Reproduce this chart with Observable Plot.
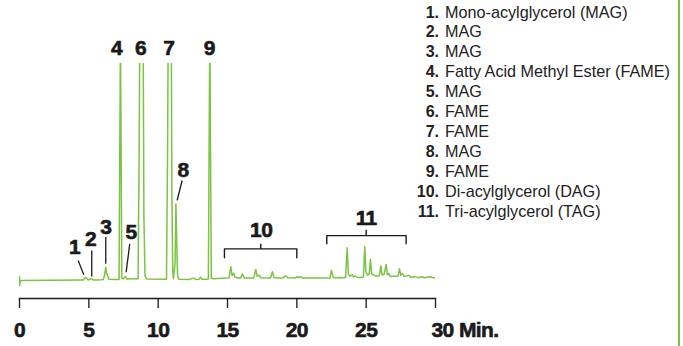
<!DOCTYPE html>
<html>
<head>
<meta charset="utf-8">
<script src="https://cdn.jsdelivr.net/npm/d3@7"></script>
<script src="https://cdn.jsdelivr.net/npm/@observablehq/plot@0.6"></script>
<style>
  html, body { margin: 0; padding: 0; background: #fff; }
  #wrap { position: relative; width: 683px; height: 346px; overflow: hidden; background: #fff; }
  #legend { position: absolute; left: 390px; top: 2.6px; font-family: "Liberation Sans", Arial, sans-serif; font-size: 16.2px; color: #222; }
  #legend .row { height: 19.9px; line-height: 19.9px; white-space: nowrap; }
  #legend .num { display: inline-block; width: 49px; text-align: right; font-weight: bold; font-size: 16px; }
  #legend .name { display: inline-block; margin-left: 6px; }
  #edge { position: absolute; left: 677.5px; top: 0; width: 2px; height: 346px; background: #7cc243; }
</style>
</head>
<body>
<div id="wrap"><div id="chart"></div><div id="legend"></div><div id="edge"></div></div>
<script>
// Chromatogram trace: retention time (min) and detector response (relative units)
const times = [
  0, 0.01, 0.06, 4.4, 4.6, 4.78, 4.95, 5.17, 5.35, 5.9, 6.05, 6.15, 6.22, 6.3, 6.45, 7.0,
  7.18, 7.27, 7.29, 7.38, 7.5, 7.62, 7.75, 7.95, 8.55, 8.63, 8.67, 8.92, 8.97, 9.05, 9.2,
  10.6, 10.68, 10.72, 10.95, 10.99, 11.05, 11.1, 11.22, 11.28, 11.33, 11.4, 11.5,
  12.3, 12.52, 12.7, 12.95, 13.05, 13.15, 13.5, 13.62, 13.71, 13.74, 13.83, 14.0,
  14.9, 15.12, 15.24, 15.33, 15.45, 15.55, 15.75, 15.95, 16.08, 16.2, 16.9, 17.04, 17.14,
  17.28, 17.4, 18.1, 18.24, 18.36, 18.6, 19.0, 19.18, 19.35, 19.9, 20.03, 20.15, 20.26, 20.4,
  22.2, 22.38, 22.5, 22.62, 22.8, 23.1, 23.4, 23.52, 23.63, 23.72, 23.85, 23.99, 24.1, 24.2,
  24.35, 24.6, 24.8, 24.9, 24.98, 25.1, 25.22, 25.31, 25.4, 25.55, 25.7, 25.95, 26.06, 26.15,
  26.3, 26.44, 26.53, 26.63, 26.75, 27.0, 27.3, 27.4, 27.5, 27.6, 27.75, 28.07, 28.2, 28.55,
  28.7, 29.03, 29.2, 29.6, 29.8, 30
];
const response = [
  1.8, -2.3, 0, 0.2, 0.2, 1.5, 0.2, 0.9, 0.2, 0.4, 0.5, 3.0, 6.1, 3.0, 0.6, 0.5,
  0.5, 101, 101, 0.9, 0.8, 1.9, 0.6, 0.8, 0.8, 60, 110, 110, 30, 2.0, 0.7,
  0.6, 60, 110, 110, 40, 5.0, 0.8, 8.0, 35.3, 20, 2.0, 0.6,
  0.5, 1.1, 0.5, 0.6, 1.6, 0.6, 0.6, 0.7, 101, 101, 1.0, 0.8,
  1.1, 1.3, 6.4, 2.4, 3.3, 1.5, 1.2, 1.2, 3.1, 1.2, 1.2, 5.1, 2.0,
  2.4, 1.3, 1.2, 4.0, 1.4, 1.2, 1.2, 2.2, 1.3, 1.2, 1.8, 1.3, 1.8, 1.1,
  1.1, 1.2, 4.6, 1.5, 1.2, 1.4, 1.3, 1.5, 15.1, 3.0, 2.0, 2.6, 1.6, 2.2,
  1.5, 1.4, 1.6, 15.7, 4.0, 2.5, 3.0, 9.7, 3.0, 2.6, 2.0, 2.2, 6.8, 2.5,
  3.0, 7.4, 2.6, 3.2, 1.8, 2.0, 2.0, 5.4, 2.4, 3.2, 1.8, 2.4, 1.5, 1.8,
  1.3, 1.7, 1.3, 1.7, 1.3, 1.3
];

// Peak number labels
const peakLabels = ["1", "2", "3", "4", "5", "6", "7", "8", "9", "10", "11"];
const labelTime  = [3.97, 5.12, 6.22, 7.0, 8.05, 8.73, 10.77, 11.8, 13.68, 17.43, 25.0];
const labelLevel = [15.3, 18.9, 24.6, 107.2, 22.3, 107.2, 107.2, 51.0, 107.2, 23.0, 28.9];

// Leader lines from labels to small peaks
const leaderT1 = [4.23, 5.21, 6.22, 7.95, 11.73];
const leaderV1 = [9.2, 13.8, 20.0, 16.9, 46.1];
const leaderT2 = [4.64, 5.21, 6.22, 7.69, 11.37];
const leaderV2 = [2.6, 1.8, 7.7, 3.8, 36.9];

// Brackets for peak groups 10 and 11
const bracketStart   = [14.78, 22.16];
const bracketEnd     = [20.0, 27.88];
const bracketMid     = [17.4, 25.0];
const bracketTop     = [14.6, 20.7];
const bracketFoot    = [10.5, 16.9];
const bracketTickTop = [16.9, 23.4];

// X axis ticks
const tickValues = [0, 5, 10, 15, 20, 25, 30];
const axisUnit = "30 Min.";

// Legend
const legendNumbers = ["1.", "2.", "3.", "4.", "5.", "6.", "7.", "8.", "9.", "10.", "11."];
const legendNames = [
  "Mono-acylglycerol (MAG)", "MAG", "MAG", "Fatty Acid Methyl Ester (FAME)", "MAG",
  "FAME", "FAME", "MAG", "FAME", "Di-acylglycerol (DAG)", "Tri-acylglycerol (TAG)"
];

const trace = times.map((t, i) => ({t, v: response[i]}));
const labels = peakLabels.map((s, i) => ({s, t: labelTime[i], v: labelLevel[i]}));
const leaders = leaderT1.map((t, i) => ({t1: t, v1: leaderV1[i], t2: leaderT2[i], v2: leaderV2[i]}));
const bracketPts = bracketStart.flatMap((s, i) => [
  {k: i, t: s, v: bracketFoot[i]},
  {k: i, t: s, v: bracketTop[i]},
  {k: i, t: bracketEnd[i], v: bracketTop[i]},
  {k: i, t: bracketEnd[i], v: bracketFoot[i]}
]);
const bracketTicks = bracketMid.map((m, i) => ({t: m, v1: bracketTop[i], v2: bracketTickTop[i]}));

const boldFont = '"Liberation Sans", Arial, sans-serif';
const green = "#7cc243";
const ink = "#1a1a1a";

const chart = Plot.plot({
  width: 683,
  height: 346,
  marginLeft: 19,
  marginRight: 248,
  marginTop: 63,
  marginBottom: 48,
  style: {background: "transparent", fontFamily: boldFont, overflow: "visible", letterSpacing: "-0.6px"},
  x: {domain: [0, 30], axis: null},
  y: {domain: [-8.29, 100], axis: null},
  marks: [
    Plot.frame({anchor: "bottom", stroke: ink, strokeWidth: 1.3}),
    Plot.axisX(tickValues, {
      tickSize: 10, tickPadding: 13.5, stroke: ink, strokeWidth: 1.3,
      tickFormat: d => d === 30 ? "" : String(d),
      fontSize: 21, fontWeight: "bold", fill: ink, fontFamily: boldFont,
      textStroke: ink, textStrokeWidth: 0.6
    }),
    Plot.text([axisUnit], {
      x: 30, frameAnchor: "bottom", dy: 23.5, dx: -4, text: d => d,
      textAnchor: "start", lineAnchor: "top", fontSize: 21, fontWeight: "bold", fill: ink, fontFamily: boldFont,
      stroke: ink, strokeWidth: 0.6
    }),
    Plot.line(trace, {x: "t", y: "v", stroke: green, strokeWidth: 1.5, clip: true, curve: "linear"}),
    Plot.link(leaders, {x1: "t1", y1: "v1", x2: "t2", y2: "v2", stroke: ink, strokeWidth: 1.3}),
    Plot.line(bracketPts, {x: "t", y: "v", z: "k", stroke: ink, strokeWidth: 1.4}),
    Plot.link(bracketTicks, {x1: "t", x2: "t", y1: "v1", y2: "v2", stroke: ink, strokeWidth: 1.4}),
    Plot.text(labels, {
      x: "t", y: "v", text: "s", fontSize: 21, fontWeight: "bold", fill: ink,
      fontFamily: boldFont, lineAnchor: "middle", stroke: ink, strokeWidth: 0.6
    })
  ]
});
document.getElementById("chart").appendChild(chart);

const legend = document.getElementById("legend");
legendNumbers.forEach((n, i) => {
  const row = document.createElement("div");
  row.className = "row";
  const a = document.createElement("span"); a.className = "num"; a.textContent = n;
  const b = document.createElement("span"); b.className = "name"; b.textContent = legendNames[i];
  row.appendChild(a); row.appendChild(b);
  legend.appendChild(row);
});
</script>
</body>
</html>
